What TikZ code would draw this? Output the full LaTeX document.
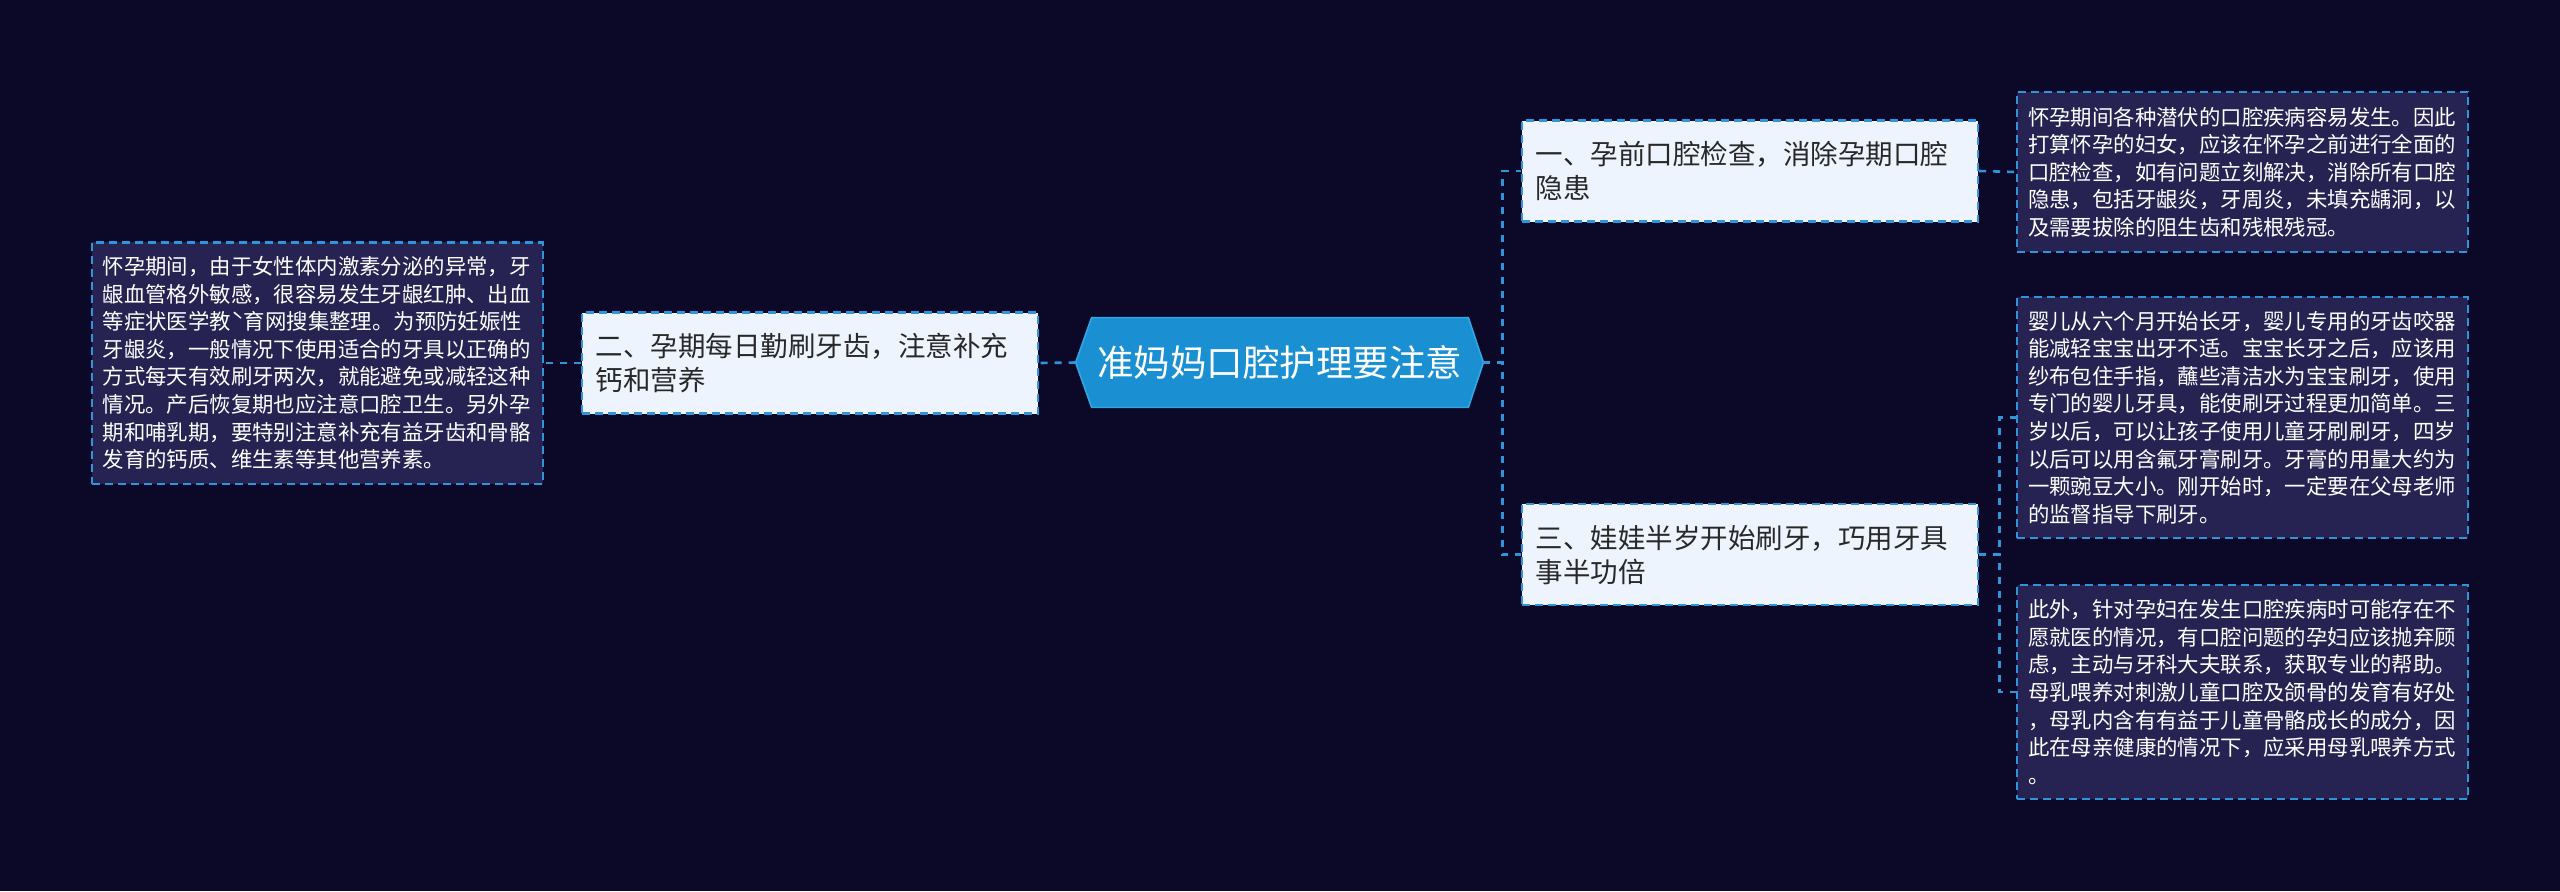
\documentclass[tikz,border=0pt]{standalone}
\usepackage{fontspec}
\newfontfamily\cjk{Noto Sans CJK SC}
\pgfdeclarelayer{bg}
\pgfdeclarelayer{mid}
\pgfsetlayers{bg,mid,main}
\definecolor{bgc}{RGB}{11,8,40}
\definecolor{leaffill}{RGB}{38,35,82}
\definecolor{nodefill}{RGB}{238,244,253}
\definecolor{linec}{RGB}{48,148,218}
\definecolor{rootfill}{RGB}{26,144,210}
\definecolor{rootedge}{RGB}{50,165,228}
\definecolor{nodetext}{RGB}{40,40,40}
\begin{document}
\begin{tikzpicture}[x=0.5pt,y=-0.5pt,
  leafbox/.style={draw=linec, line width=1.2pt, dash pattern=on 4pt off 2.5pt,
    fill=leaffill, text=white, font=\cjk\fontsize{10.7pt}{13.8pt}\selectfont,
    text width=214.5pt, inner xsep=5.5pt, inner ysep=0pt, align=left,
    minimum width=225.5pt},
  topicbox/.style={draw=linec, line width=1.2pt, dash pattern=on 4pt off 2.5pt,
    fill=nodefill, text=nodetext, font=\cjk\fontsize{13.75pt}{17.15pt}\selectfont,
    text width=214.3pt, inner xsep=6.85pt, inner ysep=0pt, align=left,
    minimum height=50.5pt},
  conn/.style={draw=linec, line width=1.3pt, dash pattern=on 3.5pt off 3.5pt},
  rootbox/.style={text=white, font=\cjk\fontsize{18.25pt}{22pt}\selectfont,
    minimum width=203.5pt, minimum height=44.5pt, inner sep=0pt}]
\useasboundingbox (0,0) rectangle (2560,891);
\begin{pgfonlayer}{bg}
  \fill[bgc] (0,0) rectangle (2560,891);
\end{pgfonlayer}

% root
\node[rootbox] (root) at (1279.5,362.5) {准妈妈口腔护理要注意};
\begin{pgfonlayer}{mid}
  \path[fill=rootfill, draw=rootedge, line width=0.8pt]
    ([xshift=8pt]root.north west) -- ([xshift=-7.5pt]root.north east) -- (root.east)
    -- ([xshift=-7.5pt]root.south east) -- ([xshift=8pt]root.south west) -- (root.west) -- cycle;
\end{pgfonlayer}

% topics
\node[topicbox] (n1) at (1750,171) {一、孕前口腔检查，消除孕期口腔\\隐患};
\node[topicbox] (n2) at (810,363) {二、孕期每日勤刷牙齿，注意补充\\钙和营养};
\node[topicbox] (n3) at (1750,554.7) {三、娃娃半岁开始刷牙，巧用牙具\\事半功倍};

% leaves
\node[leafbox, minimum height=120.7pt] (l0) at (317.2,363) {怀孕期间，由于女性体内激素分泌的异常，牙\\
龈血管格外敏感，很容易发生牙龈红肿、出血\\
等症状医学教ˋ育网搜集整理。为预防妊娠性\\
牙龈炎，一般情况下使用适合的牙具以正确的\\
方式每天有效刷牙两次，就能避免或减轻这种\\
情况。产后恢复期也应注意口腔卫生。另外孕\\
期和哺乳期，要特别注意补充有益牙齿和骨骼\\
发育的钙质、维生素等其他营养素。};

\node[leafbox, minimum height=80pt] (l1) at (2242.5,172) {怀孕期间各种潜伏的口腔疾病容易发生。因此\\
打算怀孕的妇女，应该在怀孕之前进行全面的\\
口腔检查，如有问题立刻解决，消除所有口腔\\
隐患，包括牙龈炎，牙周炎，未填充龋洞，以\\
及需要拔除的阻生齿和残根残冠。};

\node[leafbox, minimum height=120.5pt] (l2) at (2242.5,417.5) {婴儿从六个月开始长牙，婴儿专用的牙齿咬器\\
能减轻宝宝出牙不适。宝宝长牙之后，应该用\\
纱布包住手指，蘸些清洁水为宝宝刷牙，使用\\
专门的婴儿牙具，能使刷牙过程更加简单。三\\
岁以后，可以让孩子使用儿童牙刷刷牙，四岁\\
以后可以用含氟牙膏刷牙。牙膏的用量大约为\\
一颗豌豆大小。刚开始时，一定要在父母老师\\
的监督指导下刷牙。};

\node[leafbox, minimum height=107pt] (l3) at (2242.5,692) {此外，针对孕妇在发生口腔疾病时可能存在不\\
愿就医的情况，有口腔问题的孕妇应该抛弃顾\\
虑，主动与牙科大夫联系，获取专业的帮助。\\
母乳喂养对刺激儿童口腔及颌骨的发育有好处\\
，母乳内含有有益于儿童骨骼成长的成分，因\\
此在母亲健康的情况下，应采用母乳喂养方式\\
。};

% connectors
\draw[conn] (root.west) -- (n2.east);
\draw[conn] (n2.west) -- (l0.east);
\draw[conn] (root.east) -- ++(19,0) |- (n1.west);
\draw[conn] (root.east) -- ++(19,0) |- (n3.west);
\draw[conn] (n1.east) -- (l1.west);
\draw[conn] (n3.east) -- ++(20,0) |- (l2.west);
\draw[conn] (n3.east) -- ++(20,0) |- (l3.west);
\end{tikzpicture}
\end{document}
